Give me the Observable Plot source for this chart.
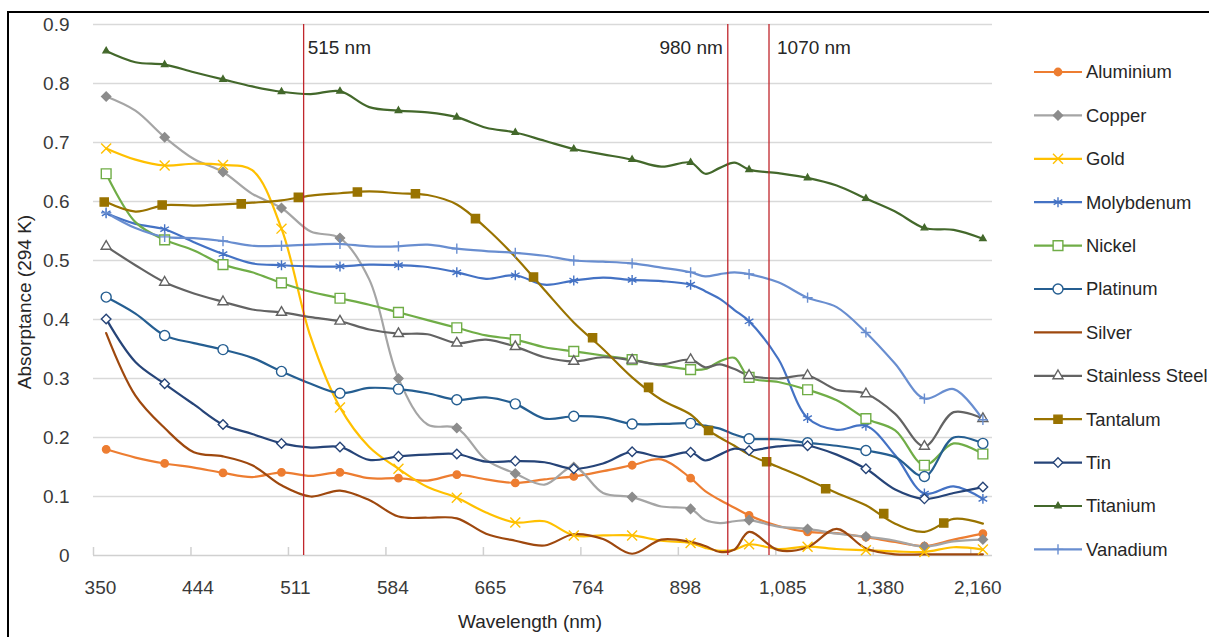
<!DOCTYPE html>
<html>
<head>
<meta charset="utf-8">
<script src="https://cdn.jsdelivr.net/npm/d3@7"></script>
<script src="https://cdn.jsdelivr.net/npm/@observablehq/plot@0.6"></script>
<style>
html, body { margin: 0; padding: 0; background: #fff; overflow: hidden; }
#wrap { position: relative; width: 1209px; height: 637px; overflow: hidden; background: #fff; }
#wrap svg { position: absolute; left: 0; top: 0; }
#frame { position: absolute; left: 7px; top: 11px; width: 1400px; height: 800px;
  border-left: 2px solid #000; border-top: 2px solid #000; pointer-events: none; }
</style>
</head>
<body>
<div id="wrap"><div id="frame"></div></div>
<script>
// ---------- data ----------
// category axis: tick labels sit on category indices 0, 7, 14, ... 63
const xLabels = ["350", "444", "511", "584", "665", "764", "898", "1,085", "1,380", "2,160"];
const xLabelIdx = [0, 7, 14, 21, 28, 35, 42, 49, 56, 63];
const yTicks = [0, 0.1, 0.2, 0.3, 0.4, 0.5, 0.6, 0.7, 0.8, 0.9];

// positions (in category-index units) where the curves were read
const samplePos = [0.41, 2.51, 4.61, 6.71, 8.80, 10.90, 13.00, 15.10, 17.20, 19.30, 21.40,
  23.49, 25.59, 27.69, 29.79, 31.89, 33.99, 36.09, 38.18, 40.28, 42.38, 43.43, 44.48, 45.53,
  46.58, 48.68, 50.78, 52.87, 54.97, 57.07, 59.17, 61.27, 63.37];
// which of the samples carry a marker
const markerIdx = [0, 2, 4, 6, 8, 10, 12, 14, 16, 18, 20, 24, 26, 28, 30, 32];

const aluminium = [0.180, 0.166, 0.156, 0.149, 0.140, 0.133, 0.141, 0.135, 0.141, 0.131, 0.131,
  0.127, 0.137, 0.129, 0.123, 0.129, 0.134, 0.143, 0.153, 0.163, 0.131, 0.109, 0.094, 0.081,
  0.068, 0.050, 0.040, 0.038, 0.031, 0.023, 0.016, 0.027, 0.037];
const copper = [0.778, 0.754, 0.709, 0.672, 0.650, 0.613, 0.589, 0.549, 0.538, 0.468, 0.300,
  0.222, 0.216, 0.162, 0.139, 0.120, 0.150, 0.106, 0.099, 0.083, 0.079, 0.060, 0.055, 0.058,
  0.060, 0.049, 0.045, 0.037, 0.032, 0.025, 0.015, 0.024, 0.027];
const gold = [0.690, 0.671, 0.661, 0.664, 0.662, 0.653, 0.554, 0.370, 0.251, 0.184, 0.147,
  0.116, 0.098, 0.073, 0.056, 0.058, 0.034, 0.034, 0.034, 0.025, 0.021, 0.013, 0.008, 0.010,
  0.019, 0.011, 0.015, 0.011, 0.009, 0.007, 0.006, 0.014, 0.010];
const molybdenum = [0.580, 0.562, 0.553, 0.531, 0.511, 0.495, 0.492, 0.490, 0.490, 0.493, 0.492,
  0.489, 0.480, 0.469, 0.475, 0.459, 0.466, 0.471, 0.467, 0.465, 0.459, 0.448, 0.435, 0.416,
  0.397, 0.333, 0.233, 0.213, 0.220, 0.170, 0.105, 0.117, 0.096];
const nickel = [0.647, 0.565, 0.535, 0.517, 0.493, 0.480, 0.462, 0.447, 0.436, 0.425, 0.412,
  0.399, 0.386, 0.373, 0.366, 0.353, 0.346, 0.339, 0.332, 0.322, 0.315, 0.316, 0.329, 0.335,
  0.302, 0.294, 0.281, 0.263, 0.232, 0.212, 0.153, 0.190, 0.172];
const platinum = [0.438, 0.410, 0.373, 0.360, 0.349, 0.335, 0.312, 0.291, 0.275, 0.284, 0.282,
  0.275, 0.264, 0.268, 0.257, 0.232, 0.236, 0.234, 0.223, 0.223, 0.224, 0.220, 0.215, 0.205,
  0.198, 0.197, 0.191, 0.186, 0.178, 0.167, 0.134, 0.200, 0.190];
const silver = [0.377, 0.271, 0.216, 0.175, 0.168, 0.153, 0.119, 0.100, 0.110, 0.094, 0.066,
  0.064, 0.063, 0.037, 0.025, 0.017, 0.036, 0.028, 0.003, 0.027, 0.023, 0.016, 0.006, 0.010,
  0.040, 0.009, 0.014, 0.045, 0.012, 0.002, 0.002, 0.002, 0.002];
const stainless = [0.524, 0.492, 0.463, 0.444, 0.430, 0.417, 0.412, 0.404, 0.397, 0.383, 0.376,
  0.375, 0.360, 0.366, 0.354, 0.336, 0.329, 0.336, 0.331, 0.324, 0.332, 0.319, 0.324, 0.316,
  0.305, 0.300, 0.305, 0.281, 0.274, 0.240, 0.185, 0.243, 0.232];
const tantalum = [0.599, 0.583, 0.594, 0.593, 0.595, 0.598, 0.602, 0.610, 0.614, 0.617, 0.614,
  0.611, 0.595, 0.555, 0.506, 0.450, 0.395, 0.350, 0.302, 0.264, 0.239, 0.216, 0.200, 0.186,
  0.171, 0.150, 0.129, 0.106, 0.085, 0.054, 0.040, 0.062, 0.054];
// Tantalum's markers sit at their own positions
const tantalumMarkerPos = [0.27, 4.43, 10.11, 14.21, 18.45, 22.62, 26.93, 31.10, 35.34, 39.36,
  43.67, 47.84, 52.08, 56.25, 60.56];
const tantalumMarkerVal = [0.599, 0.594, 0.596, 0.607, 0.616, 0.613, 0.571, 0.472, 0.369, 0.285,
  0.212, 0.159, 0.113, 0.071, 0.055];
const tin = [0.401, 0.328, 0.291, 0.256, 0.222, 0.206, 0.190, 0.183, 0.184, 0.162, 0.168,
  0.171, 0.172, 0.159, 0.160, 0.158, 0.147, 0.156, 0.176, 0.167, 0.175, 0.161, 0.171, 0.181,
  0.178, 0.185, 0.186, 0.171, 0.147, 0.112, 0.096, 0.106, 0.116];
const titanium = [0.855, 0.836, 0.832, 0.819, 0.807, 0.795, 0.786, 0.782, 0.787, 0.760, 0.754,
  0.751, 0.743, 0.725, 0.717, 0.703, 0.689, 0.680, 0.671, 0.659, 0.666, 0.647, 0.657, 0.666,
  0.654, 0.648, 0.640, 0.627, 0.605, 0.583, 0.555, 0.552, 0.537];
const vanadium = [0.581, 0.555, 0.540, 0.538, 0.533, 0.525, 0.525, 0.527, 0.528, 0.524, 0.524,
  0.527, 0.520, 0.516, 0.513, 0.508, 0.500, 0.498, 0.495, 0.488, 0.480, 0.473, 0.477, 0.480,
  0.477, 0.463, 0.437, 0.421, 0.378, 0.325, 0.266, 0.282, 0.230];

// reference wavelengths (position on the category axis)
const refLabels = ["515 nm", "980 nm", "1070 nm"];
const refPos = [14.59, 45.05, 48.01];

// ---------- styling ----------
const refAnchor = ["start", "end", "start"];
const refDx = [4, -5, 8];

const series = [
  {name: "Aluminium", values: aluminium, color: "#ED7D31", symbol: "circle", r: 3.7, fill: "#ED7D31"},
  {name: "Copper", values: copper, color: "#A5A5A5", symbol: "diamond2", r: 4.1, fill: "#8C8C8C", stroke: "#8C8C8C"},
  {name: "Gold", values: gold, color: "#FFC000", symbol: "times", r: 4.6, fill: "none"},
  {name: "Molybdenum", values: molybdenum, color: "#4472C4", symbol: "asterisk", r: 4.7, fill: "none"},
  {name: "Nickel", values: nickel, color: "#70AD47", symbol: "square", r: 5.5, fill: "#fff"},
  {name: "Platinum", values: platinum, color: "#255E91", symbol: "circle", r: 5, fill: "#fff"},
  {name: "Silver", values: silver, color: "#9E480E", symbol: null},
  {name: "Stainless Steel", values: stainless, color: "#636363", symbol: "triangle2", r: 4.8, fill: "#fff"},
  {name: "Tantalum", values: tantalum, color: "#997300", symbol: "square", r: 4.6, fill: "#997300",
    mPos: tantalumMarkerPos, mVal: tantalumMarkerVal},
  {name: "Tin", values: tin, color: "#264478", symbol: "diamond2", r: 4.3, fill: "#fff"},
  {name: "Titanium", values: titanium, color: "#43682B", symbol: "triangle2", r: 3.0, fill: "#43682B"},
  {name: "Vanadium", values: vanadium, color: "#698ED0", symbol: "plus", r: 3.4, fill: "none"}
];

const d3Symbols = {
  circle: d3.symbolCircle, diamond2: d3.symbolDiamond2, times: d3.symbolTimes,
  asterisk: d3.symbolAsterisk, square: d3.symbolSquare, triangle2: d3.symbolTriangle2, plus: d3.symbolPlus
};

const FONT = "'Liberation Sans', Arial, Helvetica, sans-serif";
const FS = 19;
const FS_LEGEND = 18.4;

// ---------- marks ----------
const lineMarks = [];
const dotMarks = [];
for (const s of series) {
  const pts = samplePos.map((u, i) => ({u, v: s.values[i]}));
  lineMarks.push(Plot.line(pts, {x: "u", y: "v", stroke: s.color, strokeWidth: 2.2, curve: "catmull-rom"}));
  if (s.symbol) {
    const mk = s.mPos
      ? s.mPos.map((u, i) => ({u, v: s.mVal[i]}))
      : markerIdx.map(i => ({u: samplePos[i], v: s.values[i]}));
    dotMarks.push(Plot.dot(mk, {
      x: "u", y: "v", symbol: () => s.symbol, r: s.r,
      fill: s.fill, stroke: s.stroke || s.color, strokeWidth: 1.4
    }));
  }
}

const refs = refPos.map((u, i) => ({u, label: refLabels[i]}));
const tickBounds = xLabelIdx.map(i => i - 0.5);

const chart = Plot.plot({
  width: 1209,
  height: 637,
  marginLeft: 93,
  marginRight: 217,
  marginTop: 24,
  marginBottom: 82,
  x: {type: "linear", domain: [-0.5, 64.06]},
  y: {domain: [0, 0.9]},
  symbol: {type: "identity"},
  style: {fontFamily: FONT, fontSize: FS + "px", color: "#3a3a3a", background: "transparent", overflow: "visible"},
  marks: [
    Plot.gridY(yTicks.slice(1), {stroke: "#d9d9d9", strokeOpacity: 1, strokeWidth: 1.5}),
    Plot.ruleY([0], {stroke: "#d0d0d0", strokeWidth: 1.6}),
    Plot.ruleX(tickBounds, {x: d => d, y1: 0, y2: 0, insetTop: -8, stroke: "#d0d0d0", strokeWidth: 1.5}),
    Plot.axisY(yTicks, {tickSize: 0, tickPadding: 24, tickFormat: d3.format("~g"), label: null, fontSize: FS}),
    Plot.axisX(xLabelIdx, {tickSize: 0, tickPadding: 25, label: null, fontSize: FS,
      tickFormat: d => xLabels[xLabelIdx.indexOf(d)]}),
    ...lineMarks,
    ...dotMarks,
    Plot.ruleX(refs, {x: "u", stroke: "#C0262C", strokeWidth: 1.3}),
    ...refs.map((d, i) => Plot.text([d], {x: "u", text: "label", frameAnchor: "top", dy: 16,
      textAnchor: refAnchor[i], dx: refDx[i], fill: "#262626", fontSize: FS}))
  ]
});

document.getElementById("wrap").insertBefore(chart, document.getElementById("frame"));

// ---------- axis titles and legend ----------
const svg = d3.select(chart);
svg.append("text")
  .attr("transform", "translate(31,302) rotate(-90)")
  .attr("text-anchor", "middle")
  .attr("font-family", FONT).attr("font-size", FS).attr("fill", "#262626")
  .text("Absorptance (294 K)");
svg.append("text")
  .attr("x", 530).attr("y", 628)
  .attr("text-anchor", "middle")
  .attr("font-family", FONT).attr("font-size", FS).attr("fill", "#262626")
  .text("Wavelength (nm)");

const lg = svg.append("g").attr("text-anchor", "start");
series.forEach((s, i) => {
  const y = 72 + i * 43.4;
  lg.append("line").attr("x1", 1034).attr("x2", 1082).attr("y1", y).attr("y2", y)
    .attr("stroke", s.color).attr("stroke-width", 2.2);
  if (s.symbol) {
    lg.append("path")
      .attr("transform", `translate(1058,${y})`)
      .attr("d", d3.symbol(d3Symbols[s.symbol], Math.PI * s.r * s.r)())
      .attr("fill", s.fill).attr("stroke", s.stroke || s.color).attr("stroke-width", 1.4);
  }
  lg.append("text").attr("x", 1086).attr("y", y).attr("dy", "0.35em")
    .attr("text-anchor", "start")
    .attr("font-family", FONT).attr("font-size", FS_LEGEND).attr("fill", "#262626")
    .text(s.name);
});
</script>
</body>
</html>
